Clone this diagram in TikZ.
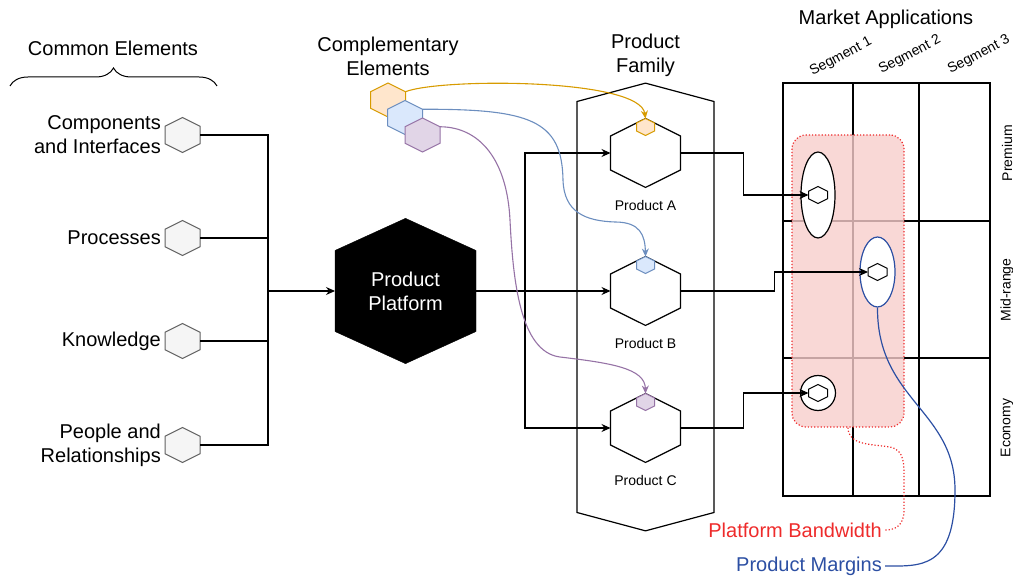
\documentclass[tikz,border=0pt]{standalone}
\usepackage{fontspec}
\setmainfont{Liberation Sans}
\usetikzlibrary{positioning,shapes.symbols,shapes.geometric,arrows.meta,decorations.pathreplacing}
\definecolor{orgline}{HTML}{D79B00}
\definecolor{orgfill}{HTML}{FFE6CC}
\definecolor{bluline}{HTML}{6C8EBF}
\definecolor{blufill}{HTML}{DAE8FC}
\definecolor{purline}{HTML}{9673A6}
\definecolor{purfill}{HTML}{E1D5E7}
\definecolor{bwred}{HTML}{EE2B2B}
\definecolor{pmblue}{HTML}{2C4FA3}
\definecolor{pinkfill}{HTML}{F8CECC}
\tikzset{
 hx/.style
  = {signal, signal to=north and south, signal pointer angle=127, inner sep=0pt, outer sep=0pt},
 ce/.style
  = {hx, draw=gray!75!black, fill=gray!8, line width=1pt, minimum width=35pt, minimum height=17.5pt},
 pr/.style
  = {hx, draw, fill=white, line width=1.2pt, minimum width=70pt, minimum height=34pt},
 sm/.style
  = {hx, line width=1pt, minimum width=18pt, minimum height=8pt},
 cx/.style
  = {hx, line width=1pt, minimum width=35pt, minimum height=16.5pt},
 mk/.style
  = {hx, draw, fill=white, line width=1pt, minimum width=19pt, minimum height=7.5pt},
 lbl/.style
  = {font=\fontsize{20}{24}\selectfont, align=center, inner sep=0pt},
 plbl/.style
  = {font=\fontsize{14}{16}\selectfont, inner sep=0pt},
 seg/.style
  = {plbl, rotate=28},
 row/.style
  = {plbl, rotate=90},
 l/.style
  = {draw, -{Stealth[length=9pt,width=8pt]}, line width=1.1pt},
 ln/.style
  = {draw, line width=1.1pt},
 cl/.style
  = {draw=#1, -{Stealth[length=8pt,width=7pt]}, line width=1.1pt}
}

\begin{document}
\begin{tikzpicture}[x=1pt,y=-1pt]
    \useasboundingbox (0,0) rectangle (1013,577);

    \node [lbl] (common) at (113,48) {Common Elements};
    \draw [line width=1pt, decorate, decoration={brace, amplitude=18pt}] (10,86) -- (217,86);

    \node [ce] (comp) at (182.5,135) {};
    \node [ce] (proc) at (182.5,238) {};
    \node [ce] (know) at (182.5,341) {};
    \node [ce] (people) at (182.5,445) {};
    \node [lbl, align=right, left=4pt of comp] (compText) {Components\\and Interfaces};
    \node [lbl, align=right, left=4pt of proc] (procText) {Processes};
    \node [lbl, align=right, left=4pt of know] (knowText) {Knowledge};
    \node [lbl, align=right, left=4pt of people] (peopleText) {People and\\Relationships};

    \coordinate (inbus) at (268,291);
    \foreach \n in {comp,proc,know,people}
      \path [ln] (\n.east) -| (inbus);

    \node [hx, draw, fill=black, minimum width=141pt, minimum height=81pt, signal pointer angle=131,
           label={[lbl, text=white]center:Product\\Platform}] (platform) at (405.5,291) {};
    \path [l] (inbus) -- (platform.west);

    \coordinate (outbus) at (525,291);
    \path [ln, line width=2pt] (platform.east) -- (outbus);

    \node [hx, draw, line width=1.2pt, minimum width=137pt, minimum height=411pt,
           signal pointer angle=150] (family) at (645.5,307) {};
    \node [lbl] (familyText) at (645.5,55) {Product\\Family};

    \node [pr] (prodA) at (645.5,153) {};
    \node [pr] (prodB) at (645.5,291) {};
    \node [pr] (prodC) at (645.5,428) {};
    \node [plbl, below=13pt of prodA] (labA) {Product A};
    \node [plbl, below=13pt of prodB] (labB) {Product B};
    \node [plbl, below=13pt of prodC] (labC) {Product C};

    \path [l] (outbus) |- (prodA.west);
    \path [l] (outbus) -- (prodB.west);
    \path [l] (outbus) |- (prodC.west);

    \node [sm, draw=orgline, fill=orgfill] (smA) at ([yshift=-8.5pt]prodA.north) {};
    \node [sm, draw=bluline, fill=blufill] (smB) at ([yshift=-8.5pt]prodB.north) {};
    \node [sm, draw=purline, fill=purfill] (smC) at ([yshift=-8.5pt]prodC.north) {};

    \node [lbl] (complText) at (388,56) {Complementary\\Elements};
    \node [cx, draw=orgline, fill=orgfill] (compO) at (388,100) {};
    \node [cx, draw=bluline, fill=blufill] (compB) at (405,117.5) {};
    \node [cx, draw=purline, fill=purfill] (compP) at (422.5,135) {};

    \path [cl=orgline] ([yshift=8.25pt]compO.east) .. controls (440,78) and (640,78) .. (smA.north);
    \path [cl=bluline] ([yshift=8.25pt]compB.east) .. controls (530,109) and (562,120) .. (563,180)
       .. controls (564,212) and (585,221) .. (615,222) .. controls (640,222) and (645,235) .. (smB.north);
    \path [cl=purline] ([yshift=8.25pt]compP.east) .. controls (480,127) and (507,160) .. (510,220)
       .. controls (513,280) and (520,352) .. (560,357) .. controls (610,363) and (645,368) .. (smC.north);

    \node [lbl] (market) at (886,19) {Market Applications};
    \draw [line width=1.2pt] (783,83) rectangle (990,496);
    \draw [line width=1.2pt] (853,83) -- (853,496) (919,83) -- (919,496)
                             (783,221) -- (990,221) (783,358) -- (990,358);
    \node [seg] (seg1) at (841,57) {Segment 1};
    \node [seg] (seg2) at (910,55) {Segment 2};
    \node [seg] (seg3) at (979,55) {Segment 3};
    \node [row] (premium) at (1007,153) {Premium};
    \node [row] (midrange) at (1007,290) {Mid-range};
    \node [row] (economy) at (1007,428) {Economy};

    \node [draw=bwred, dotted, line width=1.2pt, fill=pinkfill, fill opacity=0.8, rounded corners=14pt,
           minimum width=112pt, minimum height=292pt] (bandwidth) at (848,281) {};

    \node [ellipse, draw, fill=white, line width=1.2pt, inner sep=0pt, minimum width=34pt,
           minimum height=86pt] (premEll) at (818,195) {};
    \node [ellipse, draw=pmblue, fill=white, line width=1.2pt, inner sep=0pt, minimum width=35pt,
           minimum height=70pt] (midEll) at (877.5,272) {};
    \node [circle, draw, fill=white, line width=1.2pt, inner sep=0pt, minimum size=35pt] (ecoEll) at (818,393) {};
    \node [mk] (mkA) at (818,195) {};
    \node [mk] (mkB) at (877.5,272) {};
    \node [mk] (mkC) at (818,393) {};

    \path [l] (prodA.east) -- ++(63,0) |- (mkA.west);
    \path [l] (prodB.east) -- ++(94,0) |- (mkB.west);
    \path [l] (prodC.east) -- ++(63,0) |- (mkC.west);

    \node [lbl, text=bwred, anchor=east] (bwText) at (882,530) {Platform Bandwidth};
    \node [lbl, text=pmblue, anchor=east] (pmText) at (882,566) {Product Margins};

    \path [draw=bwred, dotted, line width=1.2pt] (bandwidth.south) .. controls (848,445) and (870,444) .. (890,447)
       .. controls (905,450) and (904,465) .. (904,480) -- (904,510) .. controls (904,525) and (896,530) .. ([xshift=3pt]bwText.east);
    \path [draw=pmblue, line width=1.2pt] (midEll.south) .. controls (877,400) and (955,410) .. (955,490)
       .. controls (955,570) and (920,566) .. ([xshift=3pt]pmText.east);

\end{tikzpicture}
\end{document}
